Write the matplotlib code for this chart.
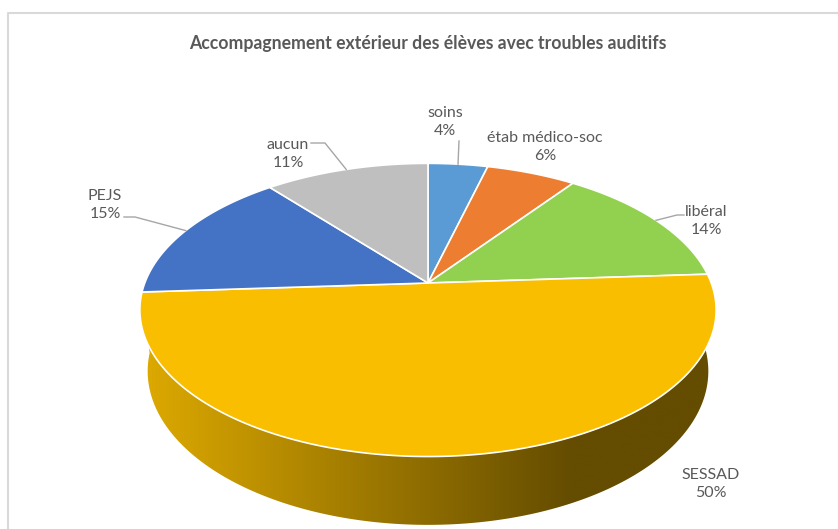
import numpy as np
import matplotlib.pyplot as plt
from matplotlib.patches import Polygon
from matplotlib.colors import LinearSegmentedColormap

categories = ['soins', 'étab médico-soc', 'libéral', 'SESSAD', 'PEJS', 'aucun']
values = [4, 6, 14, 50, 15, 11]
colors = ['#5B9BD5', '#ED7D31', '#92D050', '#FABE00', '#4472C4', '#BFBFBF']

plt.rcParams['font.family'] = ['Lato', 'DejaVu Sans']

W, H = 838, 529
fig = plt.figure(figsize=(W / 100, H / 100), dpi=100)
ax = fig.add_axes([0, 0, 1, 1])
ax.set_xlim(0, W)
ax.set_ylim(H, 0)
ax.axis('off')

# simple perspective view of a tilted disc
cx, cy = 428, 283
elev = np.radians(30)
dist = 4.71
focal = 1334
depth = 0.254


def project(t, z=0.0):
    X, Y = np.cos(t), np.sin(t)
    w = dist + Y * np.cos(elev) - z * np.sin(elev)
    v = Y * np.sin(elev) + z * np.cos(elev)
    return cx + focal * X / w, cy - focal * v / w


fracs = np.array(values) / sum(values)
bounds = np.radians(90 - 360 * np.concatenate([[0], np.cumsum(fracs)]))

# side of the big slice (the only one facing the viewer), shaded left -> right
i_big = int(np.argmax(values))
ts = np.linspace(bounds[i_big], bounds[i_big + 1], 400)
tx, ty = project(ts)
bx, by = project(ts, -depth)
side = Polygon(list(zip(tx, ty)) + list(zip(bx[::-1], by[::-1])), closed=True,
               facecolor='none', edgecolor='none')
ax.add_patch(side)
shade = LinearSegmentedColormap.from_list(
    'shade', [(0, '#DEAA00'), (0.75, '#644C00'), (1, '#644C00')])
grad = np.linspace(0, 1, 256).reshape(1, -1)
x0, x1 = min(tx.min(), bx.min()), max(tx.max(), bx.max())
img = ax.imshow(grad, cmap=shade, aspect='auto', interpolation='bilinear',
                extent=(x0, x1, by.max() + 2, min(ty.min(), by.min()) - 2), zorder=1)
img.set_clip_path(side)
ax.set_xlim(0, W)
ax.set_ylim(H, 0)

# top face
for i in range(len(values)):
    ts = np.linspace(bounds[i], bounds[i + 1], 200)
    xs, ys = project(ts)
    pts = [(cx, cy)] + list(zip(xs, ys))
    ax.add_patch(Polygon(pts, closed=True, facecolor=colors[i], zorder=2,
                         edgecolor='white', lw=1.2, joinstyle='round'))

# labels
txt = '#595959'
lead = '#A6A6A6'
label_pos = {
    'soins': (445, 122),
    'étab médico-soc': (545, 147),
    'libéral': (706, 221),
    'SESSAD': (711, 484),
    'PEJS': (105, 205),
    'aucun': (288, 154),
}
# leader line bends (label side)
leaders = {
    'soins': [(459, 141)],
    'libéral': [(677, 215), (684, 215)],
    'PEJS': [(135, 217), (124, 217)],
    'aucun': [(325, 143), (311, 143)],
}
for i, name in enumerate(categories):
    x, y = label_pos[name]
    ax.text(x, y, f'{name}\n{values[i]}%', ha='center', va='center',
            multialignment='center', fontsize=11.5, color=txt, linespacing=1.45)
    if name in leaders:
        tm = (bounds[i] + bounds[i + 1]) / 2
        x0, y0 = project(tm)
        path = [(x0, y0)] + leaders[name]
        ax.plot([p[0] for p in path], [p[1] for p in path], color=lead, lw=1, zorder=3)

ax.text(428, 43, 'Accompagnement extérieur des élèves avec troubles auditifs',
        ha='center', va='center', fontsize=12.7, fontweight='bold', color=txt)

# chart frame (partly cropped)
ax.plot([7.5, 7.5, W], [H, 12.5, 12.5], color='#D9D9D9', lw=1.5)

fig.savefig('out.png', dpi=100)
